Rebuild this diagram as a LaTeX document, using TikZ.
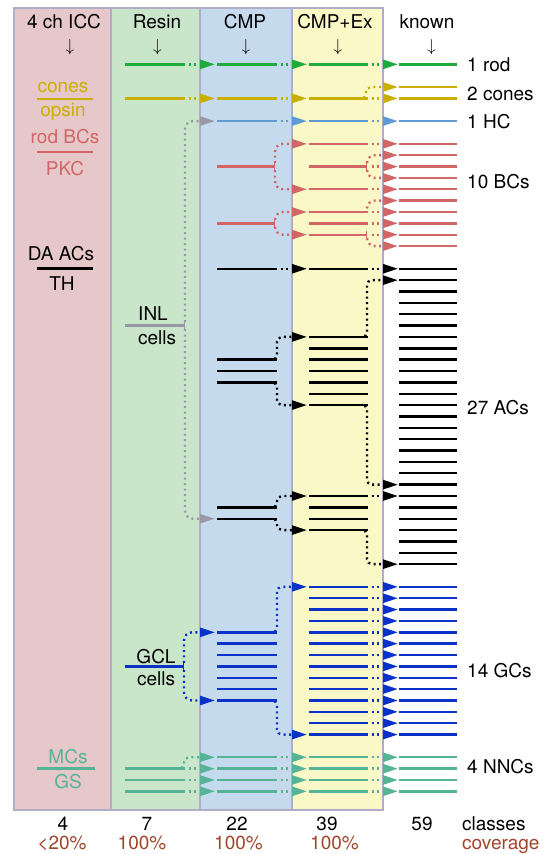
\documentclass[tikz,border=0pt]{standalone}
\usepackage{fontspec}
\setmainfont{TeX Gyre Heros}
\usetikzlibrary{arrows.meta}
\definecolor{icpink}{HTML}{E6C8CA}
\definecolor{icgreen}{HTML}{CAE6CA}
\definecolor{icblue}{HTML}{C6DAEE}
\definecolor{icyellow}{HTML}{F9F8C6}
\definecolor{icframe}{HTML}{B2ADC6}
\definecolor{rodgreen}{HTML}{1EAA3C}
\definecolor{conegold}{HTML}{C9B000}
\definecolor{hcblue}{HTML}{5F9AD2}
\definecolor{bcred}{HTML}{D26666}
\definecolor{gcblue}{HTML}{0A32C8}
\definecolor{nnteal}{HTML}{55B496}
\definecolor{inlgray}{HTML}{9A97A8}
\definecolor{covbrown}{HTML}{A0452B}

% row -> y
\newcommand{\ry}[1]{64.3+11.36*(#1)}
% colour, row, x from, x to
\newcommand{\lane}[4]{\draw[lane,#1] (#3,{\ry{#2}}) -- (#4,{\ry{#2}});}
% colour, row, column border
\newcommand{\hop}[3]{\draw[hop,#1] ({#3-15},{\ry{#2}}) -- ({#3+15},{\ry{#2}});}
% colour, x, from row, to row, column border
\newcommand{\bend}[5]{\draw[hop,rounded corners=5pt,#1] ({#2-6},{\ry{#3}}) -- (#2,{\ry{#3}}) |- ({#5+15},{\ry{#4}});}
\newcommand{\fork}[5]{\draw[hop,rounded corners=8pt,#1] (#2,{\ry{#3}}) |- ({#5+15},{\ry{#4}});}

\begin{document}
\begin{tikzpicture}[x=1pt, y=-1pt,
    every node/.style={font=\fontsize{19}{21}\selectfont, inner sep=0pt},
    head/.style={anchor=base},
    down/.style={anchor=base, font=\fontsize{18}{18}\selectfont},
    lane/.style={line width=2.4pt},
    tee/.style={lane, -{Bar[width=7pt,line width=1.5pt]}},
    hop/.style={line width=2.4pt, dash pattern=on 2pt off 3.5pt, dash phase=2pt, -{Triangle[length=15pt,width=9pt]}},
    rule/.style={line width=2.4pt},
    panel/.style={draw=icframe, line width=2pt}
]
\useasboundingbox (0,0) rectangle (549,854);

% panels
\fill[icpink] (13.5,8) rectangle (110.5,810);
\fill[icgreen] (110.5,8) rectangle (200,810);
\fill[icblue] (200,8) rectangle (292,810);
\fill[icyellow] (292,8) rectangle (383,810);
\draw[panel] (13.5,8) rectangle (383,810);
\foreach \bx in {110.5,200,292} \draw[panel] (\bx,8) -- (\bx,810);

% headers
\node[head] (hIcc) at (64,28.5) {4 ch ICC};
\node[head] (hResin) at (157,28.5) {Resin};
\node[head] (hCmp) at (245,28.5) {CMP};
\node[head] (hCmpEx) at (335,28.5) {CMP+Ex};
\node[head] (hKnown) at (427,28.5) {known};
\foreach \nm/\ax in {Icc/70,Resin/157.5,Cmp/246,CmpEx/338,Known/431.5}
  \node[down] (d\nm) at (\ax,51) {$\downarrow$};

% stains
\node[head, conegold] (sCones) at (63,92.7) {cones};
\draw[rule, conegold] (37,99) -- (93,99);
\node[head, conegold] (sOpsin) at (63,116.7) {opsin};
\node[head, bcred] (sRodBC) at (65,143.3) {rod BCs};
\draw[rule, bcred] (37,151.7) -- (93,151.7);
\node[head, bcred] (sPkc) at (65,175) {PKC};
\node[head] (sDaAc) at (61,260) {DA ACs};
\draw[rule] (37,268.3) -- (93,268.3);
\node[head] (sTh) at (62,290.7) {TH};
\node[head, nnteal] (sMcs) at (68,763.3) {MCs};
\draw[rule, nnteal] (37,768.3) -- (95,768.3);
\node[head, nnteal] (sGs) at (68,788.3) {GS};

% rod
\foreach \xa/\xb in {125/185,217/277,309/368,399/457} {\lane{rodgreen}{0}{\xa}{\xb}}
\foreach \bx in {200,292,383} {\hop{rodgreen}{0}{\bx}}

% cones
\foreach \xa/\xb in {125/185,217/277,309/368,399/457} {\lane{conegold}{3}{\xa}{\xb}}
\lane{conegold}{2}{399}{457}
\foreach \bx in {200,292,383} {\hop{conegold}{3}{\bx}}
\bend{conegold}{366}{3}{2}{383}

% horizontal cells
\foreach \xa/\xb in {217/277,309/368,399/457} {\lane{hcblue}{5}{\xa}{\xb}}
\foreach \bx in {292,383} {\hop{hcblue}{5}{\bx}}

% INL cells
\draw[tee, inlgray] (125,{\ry{23}}) -- (185,{\ry{23}});
\node[head] (inlTop) at (153,320.7) {INL};
\node[head] (inlBot) at (157,344) {cells};
\fork{inlgray}{185}{23}{5}{200}
\fork{inlgray}{185}{23}{40}{200}

% bipolar cells
\draw[tee, bcred] (217,{\ry{9}}) -- (275,{\ry{9}});
\draw[tee, bcred] (217,{\ry{14}}) -- (275,{\ry{14}});
\fork{bcred}{275}{9}{7}{292}
\fork{bcred}{275}{9}{11}{292}
\fork{bcred}{275}{14}{13}{292}
\fork{bcred}{275}{14}{15}{292}
\foreach \r in {7,11,13,14} {\lane{bcred}{\r}{309}{368}}
\draw[tee, bcred] (309,{\ry{9}}) -- (367,{\ry{9}});
\draw[tee, bcred] (309,{\ry{15}}) -- (367,{\ry{15}});
\foreach \r in {7,9,11,13,14,15} {\hop{bcred}{\r}{383}}
\fork{bcred}{367}{9}{8}{383}
\fork{bcred}{367}{9}{10}{383}
\fork{bcred}{367}{13}{12}{383}
\fork{bcred}{367}{15}{16}{383}
\foreach \r in {7,...,16} {\lane{bcred}{\r}{399}{457}}

% amacrine cells
\foreach \r in {18,26,27,28,39,40} {\lane{black}{\r}{217}{277}}
\hop{black}{18}{292}
\bend{black}{277}{26}{24}{292}
\bend{black}{277}{28}{30}{292}
\bend{black}{277}{39}{38}{292}
\bend{black}{277}{40}{41}{292}
\foreach \r in {18,24,25,26,27,28,29,30,38,39,40,41} {\lane{black}{\r}{309}{368}}
\hop{black}{18}{383}
\hop{black}{38}{383}
\bend{black}{367}{24}{19}{383}
\bend{black}{367}{30}{37}{383}
\bend{black}{367}{41}{44}{383}
\foreach \r in {18,...,44} {\lane{black}{\r}{399}{457}}

% GCL cells / ganglion cells
\draw[tee, gcblue] (125,{\ry{53}}) -- (184,{\ry{53}});
\node[head] (gclTop) at (156,663.3) {GCL};
\node[head] (gclBot) at (156,685.7) {cells};
\fork{gcblue}{184}{53}{50}{200}
\fork{gcblue}{184}{53}{56}{200}
\foreach \r in {50,...,56} {\lane{gcblue}{\r}{217}{277}}
\bend{gcblue}{277}{50}{46}{292}
\bend{gcblue}{277}{56}{59}{292}
\foreach \r in {46,...,59} {\lane{gcblue}{\r}{309}{368} \hop{gcblue}{\r}{383} \lane{gcblue}{\r}{399}{457}}

% non-neuronal cells
\foreach \r in {62,63,64} {\lane{nnteal}{\r}{125}{185} \hop{nnteal}{\r}{200}}
\bend{nnteal}{184}{62}{61}{200}
\foreach \r in {61,...,64} {\lane{nnteal}{\r}{217}{277} \hop{nnteal}{\r}{292} \lane{nnteal}{\r}{309}{368} \hop{nnteal}{\r}{383} \lane{nnteal}{\r}{399}{457}}

% class names
\node[anchor=base west] (kRod) at (467,71.7) {1 rod};
\node[anchor=base west] (kCones) at (467,100) {2 cones};
\node[anchor=base west] (kHc) at (467,128.3) {1 HC};
\node[anchor=base west] (kBc) at (467,188.3) {10 BCs};
\node[anchor=base west] (kAc) at (467,414.3) {27 ACs};
\node[anchor=base west] (kGc) at (467,677.7) {14 GCs};
\node[anchor=base west] (kNnc) at (467,773.3) {4 NNCs};

% counts
\foreach \nm/\cx/\n in {Icc/63/4,Resin/147/7,Cmp/237/22,CmpEx/327/39,Known/422/59}
  \node[head] (n\nm) at (\cx,830) {\n};
\foreach \nm/\cx/\p in {Icc/62/{<20\%},Resin/142/{100\%},Cmp/238.5/{100\%},CmpEx/334.5/{100\%}}
  \node[head, covbrown] (c\nm) at (\cx,849.5) {\p};
\node[anchor=base west] (lClasses) at (462,830) {classes};
\node[anchor=base west, covbrown] (lCoverage) at (462,849.5) {coverage};
\end{tikzpicture}
\end{document}
